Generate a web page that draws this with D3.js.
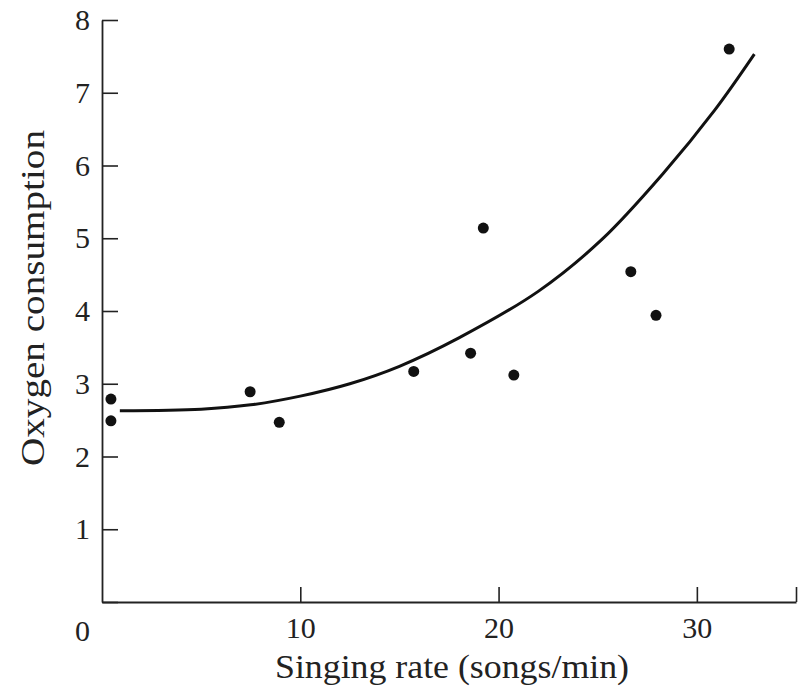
<!DOCTYPE html>
<html>
<head>
<meta charset="utf-8">
<script src="https://cdn.jsdelivr.net/npm/d3@7"></script>
<style>
  body { margin: 0; background: #fff; }
  text { font-family: "Liberation Serif", "DejaVu Serif", serif; fill: #222; }
</style>
</head>
<body>
<div id="chart"></div>
<script>
// Puntos medidos (canto vs consumo de oxígeno)
const singingRate = [0.45, 0.45, 7.47, 8.94, 15.72, 18.59, 19.23, 20.77, 26.67, 27.94, 31.63];
const oxygen      = [2.79, 2.49, 2.89, 2.47, 3.17, 3.42, 5.14, 3.12, 4.54, 3.94, 7.60];

// Curva ajustada
const curveX = [0.9, 5, 7.5, 10, 12.5, 15, 18, 22, 25.2, 28.3, 30.9, 32.9];
const curveY = [2.63, 2.65, 2.71, 2.83, 3.0, 3.24, 3.63, 4.27, 4.98, 5.89, 6.76, 7.53];

// Ticks
const xTicks = [10, 20, 30, 35];
const yTicks = [0, 1, 2, 3, 4, 5, 6, 7, 8];

const margin = { top: 20, right: 11, bottom: 97, left: 102 };
const width = 807 - margin.left - margin.right;
const height = 699 - margin.top - margin.bottom;

const svg = d3.select("#chart")
    .append("svg")
    .attr("width", 807)
    .attr("height", 699)
    .append("g")
    .attr("transform", `translate(${margin.left}, ${margin.top})`);

const x = d3.scaleLinear().domain([0, 35]).range([0, width]);
const y = d3.scaleLinear().domain([0, 8]).range([height, 0]);

// Eje X
const gx = svg.append("g")
    .attr("transform", `translate(0, ${height})`)
    .call(d3.axisBottom(x)
        .tickValues(xTicks)
        .tickSize(-15)
        .tickSizeOuter(0)
        .tickPadding(15)
        .tickFormat(d => d === 35 ? "" : d));

// Eje Y
const gy = svg.append("g")
    .call(d3.axisLeft(y)
        .tickValues(yTicks)
        .tickSize(-16)
        .tickSizeOuter(0)
        .tickPadding(12)
        .tickFormat(d3.format("d")));

[gx, gy].forEach(g => {
    g.select(".domain").attr("stroke", "#222").attr("stroke-width", 1.8);
    g.selectAll(".tick line").attr("stroke", "#222").attr("stroke-width", 1.6);
    g.selectAll(".tick text")
        .attr("font-size", 30)
        .attr("font-family", "Liberation Serif")
        .attr("fill", "#222");
});

// El 0 va en la esquina, a la altura de las etiquetas del eje X
gy.selectAll(".tick").filter(d => d === 0).select("text").attr("y", 29);

// Curva
const pts = curveX.map((v, i) => [v, curveY[i]]);
svg.append("path")
    .datum(pts)
    .attr("fill", "none")
    .attr("stroke", "#111")
    .attr("stroke-width", 3)
    .attr("d", d3.line().x(d => x(d[0])).y(d => y(d[1])).curve(d3.curveCatmullRom.alpha(0.5)));

// Puntos
svg.selectAll("circle")
    .data(singingRate.map((v, i) => [v, oxygen[i]]))
    .enter()
    .append("circle")
    .attr("cx", d => x(d[0]))
    .attr("cy", d => y(d[1]))
    .attr("r", 5.5)
    .attr("fill", "#111");

// Etiqueta eje X
svg.append("text")
    .attr("text-anchor", "middle")
    .attr("font-size", 33)
    .attr("x", 452 - margin.left)
    .attr("y", height + 76)
    .attr("textLength", 354)
    .attr("lengthAdjust", "spacingAndGlyphs")
    .text("Singing rate (songs/min)");

// Etiqueta eje Y
svg.append("text")
    .attr("text-anchor", "middle")
    .attr("font-size", 33)
    .attr("transform", "rotate(-90)")
    .attr("x", -(298 - margin.top))
    .attr("y", 44 - margin.left)
    .attr("textLength", 336)
    .attr("lengthAdjust", "spacingAndGlyphs")
    .text("Oxygen consumption");
</script>
</body>
</html>
